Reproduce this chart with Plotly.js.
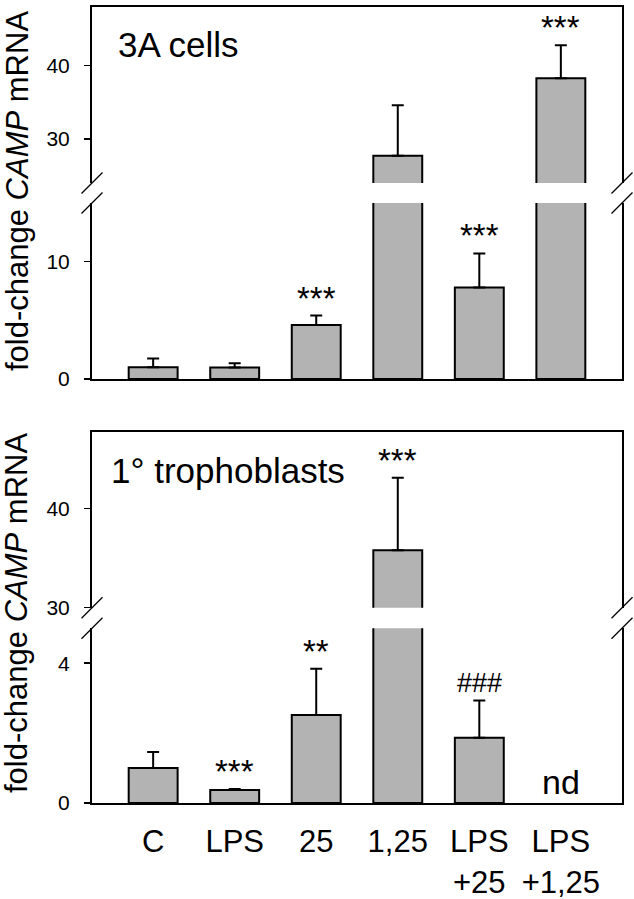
<!DOCTYPE html>
<html>
<head>
<meta charset="utf-8">
<script src="https://cdn.plot.ly/plotly-3.0.1.min.js"></script>
<style>html,body{margin:0;padding:0;background:#fff;}</style>
</head>
<body>
<div id="chart" style="width:634px;height:899px;"></div>
<script>
// ---- data ----
var categories = ['C', 'LPS', '25', '1,25', 'LPS<br>+25', 'LPS<br>+1,25'];

var cells3A = [1.0, 0.97, 4.6, 27.7, 7.8, 38.3];
var cells3AErr = [0.75, 0.37, 0.8, 6.9, 2.9, 4.5];
var cells3ASig = ['', '', '***', '', '***', '***'];

var troph = [1.0, 0.37, 2.52, 35.8, 1.87, null];
var trophErr = [0.46, 0.03, 1.32, 7.3, 1.06, null];
var trophSig = ['', '***', '**', '***', '###', 'nd'];

var panelLabels = ['3A cells', '1° trophoblasts'];
var yTitle = 'fold-change <i>CAMP</i> mRNA';

// ---- layout helpers ----
var FONT = 'Liberation Sans, Arial, Helvetica, sans-serif';
var barColor = '#b3b3b3';

// segment domains (paper)
var dTopUp = [0.7789, 1.0], dTopLo = [0.5327, 0.7538];
var dBotUp = [0.2453, 0.4661], dBotLo = [0.0, 0.2195];

function barTrace(vals, errs, xa, ya) {
  return {
    type: 'bar', x: categories, y: vals, xaxis: xa, yaxis: ya,
    width: 0.6,
    marker: {color: barColor, line: {color: '#000', width: 2}},
    error_y: {type: 'data', symmetric: false, array: errs,
              arrayminus: errs.map(function(){return 0;}),
              color: '#000', thickness: 2, width: 6},
    hoverinfo: 'skip', showlegend: false
  };
}

var data = [
  barTrace(cells3A, cells3AErr, 'x3', 'y'),
  barTrace(cells3A, cells3AErr, 'x', 'y2'),
  barTrace(troph, trophErr, 'x4', 'y3'),
  barTrace(troph, trophErr, 'x2', 'y4')
];

var xrange = [-0.75, 5.75];
function xBase(anchor, side, labels) {
  return {
    type: 'category', range: xrange, domain: [0, 1], anchor: anchor, side: side,
    showline: true, linecolor: '#000', linewidth: 2, ticks: '',
    showticklabels: labels, showgrid: false, zeroline: false, fixedrange: true,
    tickfont: {family: FONT, size: 31, color: '#000'}, ticklabelstandoff: 10
  };
}
function yBase(domain, range, tickvals, anchor) {
  return {
    domain: domain, range: range, tickvals: tickvals, anchor: anchor,
    showline: true, mirror: true, linecolor: '#000', linewidth: 2,
    ticks: 'outside', ticklen: 6, tickwidth: 1.5, tickcolor: '#000',
    ticklabelstandoff: 10,
    showgrid: false, zeroline: false, fixedrange: true,
    tickfont: {family: FONT, size: 21, color: '#000'}
  };
}

var annotations = [];
// significance marks: placed above each error bar, on whichever segment holds it
function addSig(sig, vals, errs, xLo, yLo, xUp, yUp, loMax) {
  for (var i = 0; i < sig.length; i++) {
    if (!sig[i]) continue;
    var isNd = vals[i] == null;
    var top = isNd ? 0 : vals[i] + (errs[i] || 0);
    var up = top > loMax;
    var isHash = sig[i].charAt(0) === '#';
    annotations.push({
      x: i, y: top, xref: up ? xUp : xLo, yref: up ? yUp : yLo,
      text: sig[i], showarrow: false, yanchor: 'bottom', xanchor: 'center',
      yshift: isNd ? 0 : (isHash ? 1 : -3),
      font: {family: FONT, size: isNd ? 34 : (isHash ? 27 : 33), color: '#000'}
    });
  }
}
addSig(cells3ASig, cells3A, cells3AErr, 'x', 'y2', 'x3', 'y', 15);
addSig(trophSig, troph, trophErr, 'x2', 'y4', 'x4', 'y3', 5);

// panel labels
annotations.push({text: panelLabels[0], xref: 'paper', yref: 'paper', x: 0.046, y: 0.9526,
  xanchor: 'left', yanchor: 'middle', showarrow: false, font: {family: FONT, size: 35, color: '#000'}});
annotations.push({text: panelLabels[1], xref: 'paper', yref: 'paper', x: 0.032, y: 0.4183,
  xanchor: 'left', yanchor: 'middle', showarrow: false, font: {family: FONT, size: 35, color: '#000'}});
// y titles
[0.7688, 0.2387].forEach(function(yc) {
  annotations.push({text: yTitle, xref: 'paper', yref: 'paper', x: 0, y: yc, xshift: -75,
    xanchor: 'center', yanchor: 'middle', textangle: -90, showarrow: false,
    font: {family: FONT, size: 31, color: '#000'}});
});

// break marks
var shapes = [];
function brk(xp, yp) {
  shapes.push({type: 'line', xref: 'paper', yref: 'paper', xsizemode: 'pixel', ysizemode: 'pixel',
    xanchor: xp, yanchor: yp, x0: -10.5, x1: 10.5, y0: -10.5, y1: 10.5,
    line: {color: '#000', width: 1.2}});
}
[dTopUp[0], dTopLo[1], dBotUp[0], dBotLo[1]].forEach(function(yp) { brk(0, yp); brk(1, yp); });

var layout = {
  width: 634, height: 899,
  margin: {l: 92, r: 12, t: 7, b: 96},
  paper_bgcolor: '#fff', plot_bgcolor: 'rgba(0,0,0,0)',
  showlegend: false,
  font: {family: FONT, color: '#000'},
  xaxis: xBase('y2', 'bottom', false),
  xaxis3: xBase('y', 'top', false),
  xaxis2: xBase('y4', 'bottom', true),
  xaxis4: xBase('y3', 'top', false),
  yaxis: yBase(dTopUp, [24, 48], [30, 40], 'x3'),
  yaxis2: yBase(dTopLo, [0, 15], [0, 10], 'x'),
  yaxis3: yBase(dBotUp, [30, 47.7], [30, 40], 'x4'),
  yaxis4: yBase(dBotLo, [0, 5], [0, 4], 'x2'),
  annotations: annotations,
  shapes: shapes
};

Plotly.newPlot('chart', data, layout, {staticPlot: true, displayModeBar: false});
</script>
</body>
</html>
